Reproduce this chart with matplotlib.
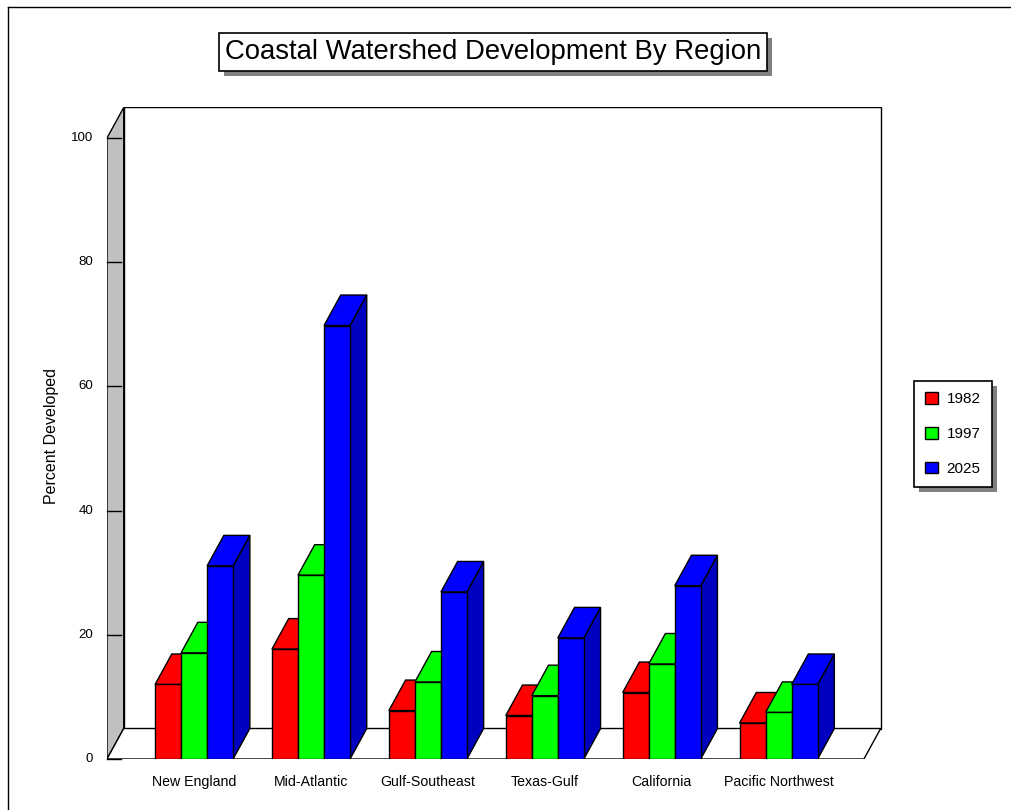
import matplotlib
matplotlib.use("Agg")
import matplotlib.pyplot as plt
from matplotlib.patches import Polygon, Rectangle, Patch
from matplotlib.lines import Line2D

# ---- data ----
regions = ["New England", "Mid-Atlantic", "Gulf-Southeast", "Texas-Gulf",
           "California", "Pacific Northwest"]
years = ["1982", "1997", "2025"]
pct_1982 = [12.0, 17.7, 7.8, 7.0, 10.7, 5.8]
pct_1997 = [17.1, 29.6, 12.4, 10.2, 15.3, 7.5]
pct_2025 = [31.1, 69.8, 26.9, 19.5, 27.9, 12.0]
yticks = [0, 20, 40, 60, 80, 100]

front_colors = ["#ff0000", "#00ff00", "#0000ff"]
side_colors = ["#c00000", "#00c000", "#0000c0"]

# ---- pseudo-3d geometry (data units) ----
W = 0.2226          # bar width (category units)
DX, DY = 0.143, 4.91  # depth offset
XL, XR = -0.745, 5.73
YMAX = 100
LW = 1.0
FONT = "Liberation Sans"

W_PX, H_PX = 1011, 810
fig = plt.figure(figsize=(W_PX / 100, H_PX / 100), dpi=100)
ax = fig.add_axes([107 / W_PX, 51 / H_PX, 776 / W_PX, 651.5 / H_PX])
ax.set_xlim(XL, XR + DX + 0.02)
ax.set_ylim(0, YMAX + DY)
ax.axis("off")

# walls + floor
ax.add_patch(Rectangle((XL + DX, DY), XR - XL, YMAX, fc="white", ec="black", lw=LW, zorder=1))
ax.add_patch(Polygon([(XL, 0), (XL, YMAX), (XL + DX, YMAX + DY), (XL + DX, DY)],
                     closed=True, fc="#c0c0c0", ec="black", lw=LW, zorder=2))
ax.add_patch(Polygon([(XL, 0), (XR, 0), (XR + DX, DY), (XL + DX, DY)],
                     closed=True, fc="white", ec="black", lw=LW, zorder=2))

for v in yticks:
    ax.plot([XL, XL + 0.12], [v, v], color="black", lw=LW, zorder=3, clip_on=False)
    ax.text(XL - 0.12, v, str(v), ha="right", va="center", fontsize=9.5, family=FONT)

# bars
series = [pct_1982, pct_1997, pct_2025]
z = 4
for i, reg in enumerate(regions):
    for j, vals in enumerate(series):
        h = vals[i]
        x0 = i + (j - 1.5) * W
        fc, sc = front_colors[j], side_colors[j]
        ax.add_patch(Polygon([(x0 + W, 0), (x0 + W + DX, DY), (x0 + W + DX, h + DY), (x0 + W, h)],
                             closed=True, fc=sc, ec="black", lw=LW, zorder=z))
        ax.add_patch(Polygon([(x0, h), (x0 + W, h), (x0 + W + DX, h + DY), (x0 + DX, h + DY)],
                             closed=True, fc=fc, ec="black", lw=LW, zorder=z))
        ax.add_patch(Rectangle((x0, 0), W, h, fc=fc, ec="black", lw=LW, zorder=z))
        z += 1
    ax.text(i, -3.7, reg, ha="center", va="center", fontsize=10.2, family=FONT)

ax.text(-1.22, 52, "Percent Developed", rotation=90, ha="center", va="center",
        fontsize=11.5, family=FONT)

# title with box and shadow
title = fig.text(493 / W_PX, 1 - 52 / H_PX, "Coastal Watershed Development By Region",
                 ha="center", va="center", fontsize=19.8, family=FONT, zorder=10,
                 bbox=dict(boxstyle="square,pad=0.22", fc="white", ec="black", lw=1.2))

# legend
handles = [Patch(fc=c, ec="black", lw=1.0) for c in front_colors]
leg = fig.legend(handles, years, loc="center", bbox_to_anchor=(953 / W_PX, 1 - 434 / H_PX),
                 fancybox=False, edgecolor="black", framealpha=1,
                 handlelength=0.85, handleheight=0.8, handletextpad=0.55,
                 labelspacing=1.35, borderpad=0.75, borderaxespad=0,
                 prop={"family": FONT, "size": 11})
leg.get_frame().set_linewidth(1.2)
leg.set_zorder(10)

# figure border (top + left visible)
fig.add_artist(Line2D([8 / W_PX, 1.0], [1 - 7 / H_PX] * 2, transform=fig.transFigure,
                      color="black", lw=1.0))
fig.add_artist(Line2D([8 / W_PX] * 2, [0.0, 1 - 7 / H_PX], transform=fig.transFigure,
                      color="black", lw=1.0))

# drop shadows (5 px down-right) behind title box and legend
fig.canvas.draw()
for bb in [title.get_bbox_patch().get_window_extent(), leg.get_frame().get_window_extent()]:
    fig.add_artist(Rectangle((bb.x0 + 5, bb.y0 - 5), bb.width, bb.height, transform=None,
                             fc="#808080", ec="none", zorder=5))

fig.savefig("out.png", dpi=100)
